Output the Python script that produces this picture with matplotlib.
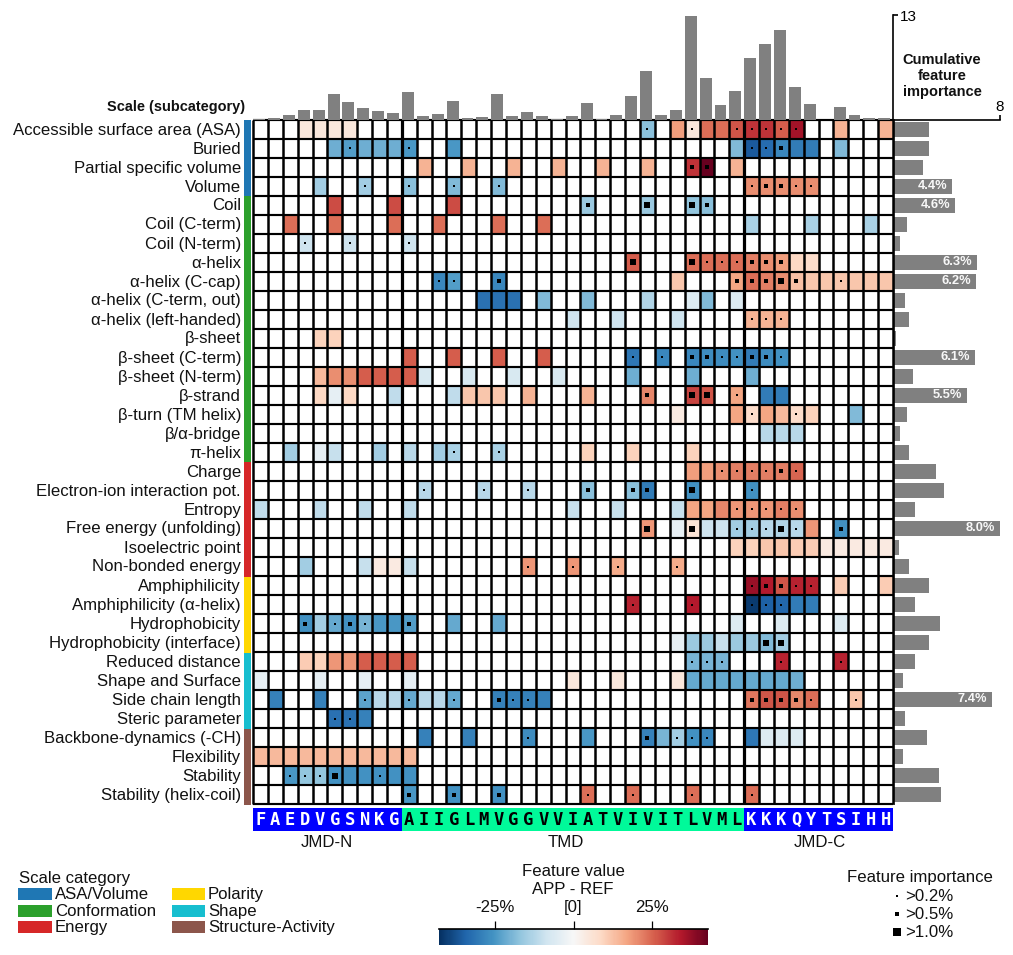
import numpy as np
import matplotlib
matplotlib.use('Agg')
import matplotlib.pyplot as plt
from matplotlib.cm import ScalarMappable
from matplotlib.colors import ListedColormap, Normalize
from matplotlib.patches import Rectangle
from matplotlib.transforms import ScaledTranslation

plt.rcParams['font.family'] = ['Liberation Sans', 'DejaVu Sans']

# Scales and their categories
scales = ['Accessible surface area (ASA)', 'Buried', 'Partial specific volume', 'Volume',
          'Coil', 'Coil (C-term)', 'Coil (N-term)', 'α-helix', 'α-helix (C-cap)',
          'α-helix (C-term, out)', 'α-helix (left-handed)', 'β-sheet', 'β-sheet (C-term)',
          'β-sheet (N-term)', 'β-strand', 'β-turn (TM helix)', 'β/α-bridge', 'π-helix',
          'Charge', 'Electron-ion interaction pot.', 'Entropy', 'Free energy (unfolding)',
          'Isoelectric point', 'Non-bonded energy',
          'Amphiphilicity', 'Amphiphilicity (α-helix)', 'Hydrophobicity', 'Hydrophobicity (interface)',
          'Reduced distance', 'Shape and Surface', 'Side chain length', 'Steric parameter',
          'Backbone-dynamics (-CH)', 'Flexibility', 'Stability', 'Stability (helix-coil)']
category_names = ['ASA/Volume', 'Conformation', 'Energy', 'Polarity', 'Shape', 'Structure-Activity']
category_counts = [4, 14, 6, 4, 4, 4]
category_colors = ['#1f77b4', '#2ca02c', '#d62728', '#ffd700', '#17becf', '#8c564b']

jmd_n = 'FAEDVGSNKG'
tmd = 'AIIGLMVGGVVIATVIVITLVML'
jmd_c = 'KKKQYTSIHH'
sequence = jmd_n + tmd + jmd_c

# Mean difference in percent, per scale: {position: value}
cell_values = [
    {3: 5, 4: 5, 5: 5, 6: 5, 26: -18, 28: 18, 29: 5, 30: 24, 31: 24, 32: 27, 33: 31, 34: 31, 35: 26, 36: 36, 39: 15, 42: 15},
    {5: -21, 6: -24, 7: -21, 8: -21, 9: -21, 10: -25, 13: -25, 32: -19, 33: -36, 34: -33, 35: -28, 36: -30, 37: -30, 39: -19},
    {11: 15, 14: 15, 17: 15, 20: 15, 23: 15, 26: 15, 29: 31, 30: 43, 32: 15},
    {4: -15, 7: -15, 10: -18, 13: -19, 16: -19, 33: 20, 34: 20, 35: 20, 36: 20, 37: 20},
    {5: 28, 9: 28, 13: 28, 22: -16, 26: -16, 29: -17, 30: -18},
    {2: 24, 5: 24, 9: 24, 12: 24, 16: 24, 19: 24, 33: -14, 37: -14, 41: -14},
    {3: -9, 6: -9, 10: -9},
    {25: 26, 29: 24, 30: 24, 31: 24, 32: 24, 33: 22, 34: 20, 35: 18, 36: 9, 37: 8},
    {12: -28, 13: -24, 16: -28, 28: 12, 32: 17, 33: 24, 34: 22, 35: 20, 36: 13, 37: 12, 38: 12, 39: 12, 40: 12, 41: 12, 42: 12},
    {15: -32, 16: -32, 17: -32, 19: -19, 22: -19, 26: -13, 29: -6, 30: -19, 32: -6},
    {21: -9, 24: -9, 28: -9, 33: 15, 34: 15, 35: 15},
    {4: 10, 5: 10},
    {10: 26, 13: 26, 16: 26, 19: 26, 25: -31, 27: -28, 29: -28, 30: -27, 31: -27, 32: -26, 33: -30, 34: -27, 35: -26},
    {4: 14, 5: 20, 6: 20, 7: 26, 8: 26, 9: 26, 10: 26, 11: -7, 14: -7, 17: -7, 20: -7, 25: -21, 29: -21, 33: -21},
    {4: 9, 5: -4, 6: 9, 9: -11, 13: -11, 14: 12, 15: 12, 16: 12, 18: 15, 22: 15, 26: 21, 29: 29, 30: 27, 32: 17, 34: -30, 35: -30},
    {28: 4, 32: 17, 33: 8, 34: 17, 35: 14, 36: 8, 37: 10, 40: -19},
    {34: -12, 35: -12, 36: -12},
    {2: -15, 4: -4, 5: -10, 8: -15, 10: -12, 12: -15, 13: -14, 16: -14, 22: 10, 25: 10, 29: 10},
    {29: 18, 30: 18, 31: 20, 32: 22, 33: 22, 34: 22, 35: 22, 36: 25},
    {11: -12, 15: -12, 18: -12, 22: -18, 25: -18, 26: -30, 29: -26, 33: -26},
    {0: -11, 4: -11, 7: -11, 10: -11, 21: -10, 24: -10, 28: -10, 29: 17, 30: 17, 31: 21, 32: 19, 33: 19, 34: 19, 35: 22, 36: 20},
    {26: 19, 28: -4, 29: 6, 30: -9, 31: -9, 32: -15, 33: -15, 34: -12, 35: -13, 36: -12, 37: 19, 39: -26},
    {32: 10, 33: 10, 34: 12, 35: 12, 36: 11, 37: 11, 38: 4, 39: 4, 40: 4, 41: 4, 42: 4},
    {3: -15, 7: -10, 8: 4, 9: 4, 10: -10, 18: 19, 21: 19, 24: 16, 28: 16},
    {33: 37, 34: 34, 35: 27, 36: 33, 37: 33, 39: 11, 42: 11},
    {25: 33, 29: 34, 33: -41, 34: -35, 35: -34, 36: -30, 37: -30},
    {3: -26, 4: -15, 5: -22, 6: -26, 7: -20, 8: -25, 9: -25, 10: -24, 13: -22, 16: -22, 32: -6, 35: -6, 39: -6},
    {28: -4, 29: -16, 30: -16, 31: -10, 32: -16, 33: -16, 34: -19, 35: -15},
    {3: 11, 4: 10, 5: 19, 6: 19, 7: 26, 8: 26, 9: 26, 10: 26, 29: -20, 30: -20, 31: -20, 35: 33, 39: 33},
    {0: -4, 4: -4, 7: -4, 10: -4, 21: 5, 24: 5, 28: 5, 29: -22, 30: -22, 31: -22, 32: -22, 33: -22, 34: -22, 35: -22, 36: -21},
    {1: -29, 4: -29, 7: -23, 8: -12, 9: -12, 10: -22, 11: -12, 12: -12, 13: -22, 16: -29, 17: -29, 18: -29, 19: -29,
     33: 23, 34: 27, 35: 27, 36: 21, 37: 24, 40: 12},
    {5: -32, 6: -32, 7: -29},
    {11: -29, 14: -29, 18: -27, 22: -25, 26: -29, 27: -20, 28: -15, 29: -26, 30: -28, 33: -31, 34: -6, 35: -6, 36: -6},
    {0: 14, 1: 14, 2: 14, 3: 14, 4: 14, 5: 14, 6: 14, 7: 14, 8: 14, 9: 14, 10: 14},
    {2: -25, 3: -17, 4: -17, 5: -26, 6: -26, 7: -26, 8: -26, 9: -26, 10: -26},
    {10: -25, 13: -26, 16: -26, 22: 24, 25: 24, 29: 24, 33: 24},
]

# Feature importance class per cell: 1 >0.2%, 2 >0.5%, 3 >1.0%
cell_dots = [
    {26: 1, 29: 1, 32: 1, 33: 1, 34: 1, 35: 1, 36: 1},
    {6: 1, 10: 1, 33: 1, 34: 1, 35: 2},
    {29: 2, 30: 2},
    {7: 1, 10: 1, 13: 1, 16: 1, 33: 1, 34: 2, 35: 2, 36: 1, 37: 1},
    {22: 2, 26: 3, 29: 3, 30: 2},
    {},
    {3: 1, 6: 1, 10: 1},
    {25: 3, 29: 3, 30: 1, 31: 1, 32: 1, 33: 2, 34: 2, 35: 2},
    {12: 1, 13: 1, 16: 2, 32: 2, 33: 2, 34: 2, 35: 3, 36: 2, 39: 1},
    {},
    {33: 1, 34: 1, 35: 1},
    {},
    {25: 1, 27: 1, 29: 2, 30: 2, 31: 1, 32: 1, 33: 2, 34: 2, 35: 1},
    {},
    {26: 2, 29: 3, 30: 3, 32: 1},
    {33: 1, 36: 1},
    {},
    {13: 1, 16: 1},
    {31: 1, 32: 1, 33: 1, 34: 1, 35: 2, 36: 1},
    {11: 1, 15: 1, 18: 1, 22: 2, 25: 2, 26: 2, 29: 3, 33: 1},
    {32: 1, 33: 1, 34: 1, 35: 1, 36: 1},
    {26: 3, 29: 3, 32: 1, 33: 1, 34: 1, 35: 3, 36: 1, 39: 2},
    {},
    {18: 1, 21: 1, 24: 1, 28: 1},
    {33: 1, 34: 2, 35: 2, 36: 1, 37: 1},
    {25: 1, 29: 1, 33: 1, 34: 1, 35: 1},
    {3: 2, 5: 1, 6: 2, 7: 1, 10: 2},
    {34: 3, 35: 3},
    {29: 1, 30: 1, 31: 1, 35: 1, 39: 1},
    {},
    {7: 1, 10: 1, 13: 1, 16: 2, 17: 1, 18: 1, 33: 2, 34: 2, 35: 2, 36: 2, 37: 1, 40: 1},
    {5: 1, 6: 1},
    {18: 1, 26: 2, 28: 1, 29: 1, 30: 1},
    {},
    {2: 1, 3: 1, 4: 1, 5: 3, 8: 1},
    {10: 2, 13: 2, 16: 2, 22: 1, 25: 1, 29: 1, 33: 1},
]

# Cumulative importance per position and per scale
position_importance = [0.09, 0.25, 0.62, 1.24, 1.24, 3.2, 2.2, 1.5, 1.1, 0.87,
                       3.47, 0.5, 0.74, 2.35, 0.25, 0.37, 3.2, 0.5, 1.0, 0.5, 0.12, 0.5, 2.1,
                       0.12, 0.62, 2.97, 6.06, 0.62, 1.24, 12.87, 5.2, 1.86, 3.6,
                       7.67, 9.4, 11.14, 4.08, 1.98, 0, 1.6, 0.62, 0.25, 0.25]
scale_importance = [2.7, 2.7, 2.2, 4.4, 4.6, 1.0, 0.5, 6.3, 6.2, 0.9, 1.2, 0.2,
                    6.1, 1.5, 5.5, 1.0, 0.5, 1.2, 3.2, 3.8, 1.6, 8.0, 0.45, 1.2,
                    2.7, 1.6, 3.5, 2.7, 1.6, 0.75, 7.4, 0.9, 2.55, 0.7, 3.4, 3.6]

dot_sizes = {1: 2.5, 2: 7, 3: 18}
dot_labels = {1: '>0.2%', 2: '>0.5%', 3: '>1.0%'}

W, H = 1013, 955
cmap = plt.get_cmap('RdBu_r')
norm = Normalize(vmin=-43, vmax=43)
FS = 12.1


def add_axes_px(fig, x0, y0, x1, y1):
    # axes from pixel box, y counted from the top of the figure
    return fig.add_axes([x0 / W, 1 - y1 / H, (x1 - x0) / W, (y1 - y0) / H])


fig = plt.figure(figsize=(W / 100, H / 100), dpi=100)
n_rows, n_cols = len(scales), len(sequence)

# Heatmap
ax = add_axes_px(fig, 253, 120, 893, 804)
matrix = np.full((n_rows, n_cols), np.nan)
for r, row in enumerate(cell_values):
    for c, v in row.items():
        matrix[r, c] = v
ax.pcolormesh(np.ma.masked_invalid(matrix), cmap=cmap, norm=norm)
ax.set_xlim(0, n_cols)
ax.set_ylim(n_rows, 0)
ax.hlines(np.arange(n_rows + 1), 0, n_cols, color='black', lw=1.55, clip_on=False)
ax.vlines(np.arange(n_cols + 1), 0, n_rows, color='black', lw=1.8, clip_on=False)
for c in (len(jmd_n), len(jmd_n) + len(tmd)):
    ax.axvline(c, color='black', lw=2.3)
for r, row in enumerate(cell_dots):
    for c, k in row.items():
        ax.scatter(c + 0.5, r + 0.5, s=dot_sizes[k], marker='s', color='black', linewidths=0, zorder=5)
ax.set_xticks([])
ax.set_yticks(np.arange(n_rows) + 0.5, scales, fontsize=FS, color='#111111')
ax.tick_params(axis='y', length=0, pad=8.6)
label_shift = ScaledTranslation(0, 1 / 100, fig.dpi_scale_trans)
for lab in ax.get_yticklabels():
    lab.set_transform(lab.get_transform() + label_shift)
for s in ax.spines.values():
    s.set_visible(False)

# Category strip
ax_cat = add_axes_px(fig, 244, 120, 250.5, 805)
cat_ids = np.repeat(np.arange(len(category_counts)), category_counts)
ax_cat.pcolormesh(cat_ids[:, None], cmap=ListedColormap(category_colors))
ax_cat.set_ylim(n_rows, 0)
ax_cat.axis('off')

# Importance per position
ax_top = add_axes_px(fig, 251.7, 15, 891.7, 120)
ax_top.bar(np.arange(n_cols) + 0.5, position_importance, width=0.8, color='#808080')
ax_top.set_xlim(0, n_cols)
ax_top.set_ylim(0, 13)
ax_top.axis('off')

# Importance per scale
ax_right = add_axes_px(fig, 893.5, 120, 1000, 804)
ax_right.barh(np.arange(n_rows) + 0.5, scale_importance, height=0.77, color='#808080')
ax_right.set_xlim(0, 8)
ax_right.set_ylim(n_rows, 0)
for r, v in enumerate(scale_importance):
    if v > 4:
        ax_right.text(v - 0.36, r + 0.47, f'{v:.1f}%', color='#f8f8f8', fontsize=9.3, fontweight='bold',
                      ha='right', va='center')
ax_right.spines[['right', 'bottom']].set_visible(False)
ax_right.spines['top'].set_linewidth(1.2)
ax_right.spines['left'].set_linewidth(1.2)
ax_right.set_yticks([])
ax_right.xaxis.tick_top()
ax_right.set_xticks([8], ['8'], fontsize=11)
ax_right.tick_params(axis='x', length=3.5, width=1.2, pad=1)

# Thin axes carrying the upper scale, its ticks point to the right of the line
ax_axis = add_axes_px(fig, 893, 15, 893.4, 120)
ax_axis.set_xlim(0, 1)
ax_axis.set_ylim(0, 13)
ax_axis.patch.set_visible(False)
ax_axis.spines[['top', 'right', 'bottom']].set_visible(False)
ax_axis.spines['left'].set_linewidth(1.2)
ax_axis.set_xticks([])
ax_axis.yaxis.tick_right()
ax_axis.set_yticks([13], ['13'], fontsize=11)
ax_axis.tick_params(axis='y', length=3.5, width=1.2, pad=1.5)

# Sequence row
ax_seq = add_axes_px(fig, 253, 808, 893, 830.5)
for c, aa in enumerate(sequence):
    in_tmd = len(jmd_n) <= c < len(jmd_n) + len(tmd)
    ax_seq.bar(c + 0.5, 1, width=1, color='#00fa9a' if in_tmd else '#0000ff')
    ax_seq.text(c + 0.5, 0.47, aa, ha='center', va='center', fontsize=12.3, fontweight='bold',
                family='DejaVu Sans Mono', color='black' if in_tmd else 'white')
ax_seq.set_xlim(0, n_cols)
ax_seq.set_ylim(0, 1)
ax_seq.axis('off')


def px_text(x, y, s, **kw):
    kw.setdefault('fontsize', FS)
    kw.setdefault('color', '#111111')
    kw.setdefault('ha', 'center')
    kw.setdefault('va', 'center')
    fig.text(x / W, 1 - y / H, s, **kw)


px_text(327, 842, 'JMD-N')
px_text(566, 842, 'TMD')
px_text(820, 842, 'JMD-C')
px_text(245, 107, 'Scale (subcategory)', ha='right', fontweight='bold', fontsize=10.45)
px_text(942, 76, 'Cumulative\nfeature\nimportance', fontweight='bold', fontsize=10.5, linespacing=1.17)

# Category legend
px_text(19, 878, 'Scale category', ha='left')
for i, (name, col) in enumerate(zip(category_names, category_colors)):
    x = 18 if i < 3 else 172
    w = 34 if i < 3 else 33
    y = 888 + (i % 3) * 16.5
    fig.add_artist(Rectangle((x / W, 1 - (y + 12) / H), w / W, 12 / H, transform=fig.transFigure, color=col, lw=0))
    px_text(x + w + 3, y + 6.5, name, ha='left')

# Colour bar
px_text(573, 871, 'Feature value')
px_text(573, 889, 'APP - REF')
cax = add_axes_px(fig, 439, 929, 708, 945)
cb = fig.colorbar(ScalarMappable(norm=norm, cmap=cmap), cax=cax, orientation='horizontal', ticks=[-25, 0, 25])
cb.outline.set_visible(False)
cax.xaxis.set_ticks_position('top')
cax.set_xticklabels(['-25%', '[0]', '25%'], fontsize=FS, color='#111111')
cax.tick_params(axis='x', length=6, width=0.9, pad=4)
cax.axhline(1, color='black', lw=1.2, clip_on=False)

# Importance legend
px_text(920, 877, 'Feature importance')
ax_dots = add_axes_px(fig, 880, 887, 960, 941)
ax_dots.set_xlim(880, 960)
ax_dots.set_ylim(941, 887)
ax_dots.axis('off')
for k, y in zip((1, 2, 3), (896, 914, 932)):
    ax_dots.scatter(897, y, s=dot_sizes[k] * 1.6, marker='s', color='black', linewidths=0)
    px_text(905, y, dot_labels[k], ha='left')

fig.savefig('out.png', dpi=100)
